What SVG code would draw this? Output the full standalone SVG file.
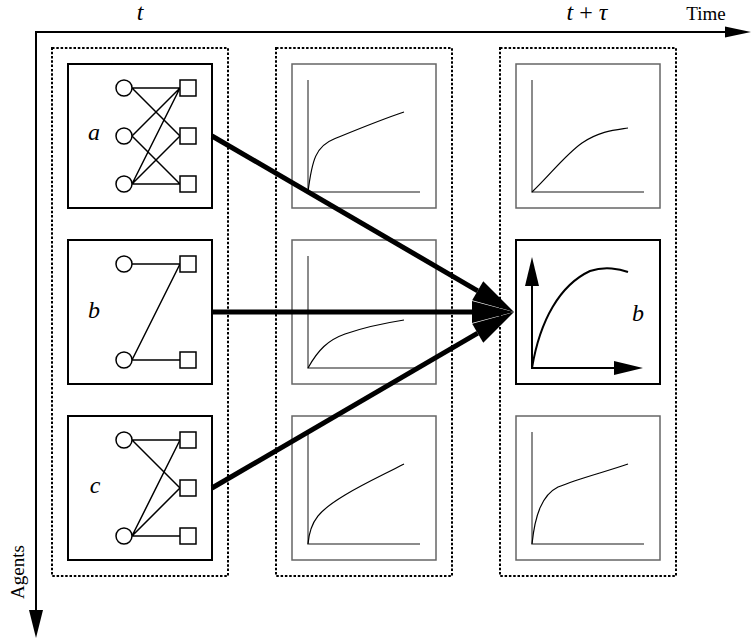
<svg xmlns="http://www.w3.org/2000/svg" width="751" height="639" viewBox="0 0 751 639">
<style>
.dot{fill:none;stroke:#000;stroke-width:2;stroke-dasharray:2.5 1.8}
.nbox{fill:#fff;stroke:#000;stroke-width:2}
.gbox{fill:none;stroke:#666;stroke-width:1.5}
.gaxis{fill:none;stroke:#666;stroke-width:1.5}
.curve{fill:none;stroke:#000;stroke-width:1.2}
.ag{fill:#fff;stroke:#000;stroke-width:1.5}
.ed{stroke:#000;stroke-width:1.5;fill:none}
.lbl{font-family:"Liberation Serif","Times New Roman",serif;font-style:italic;font-size:24px;fill:#000}
.txt{font-family:"Liberation Serif","Times New Roman",serif;font-size:19px;fill:#000}
.thick{stroke:#000;stroke-width:5;fill:none}
</style>
<defs>
<marker id="big" markerUnits="userSpaceOnUse" markerWidth="50" markerHeight="26" refX="0" refY="0" orient="auto" overflow="visible">
<path d="M0,-11 L42,0 L0,11 z" fill="#000"/>
</marker>
</defs>

<g id="axes">
<path d="M727,32 H36 V612" fill="none" stroke="#000" stroke-width="2"/>
<polygon points="725,26.5 751,32 725,37.5" fill="#000"/>
<polygon points="29,610 36,638 43,610" fill="#000"/>
<text class="lbl" x="140" y="20" text-anchor="middle">t</text>
<text class="lbl" x="587" y="20" text-anchor="middle">t <tspan font-style="normal">+</tspan> τ</text>
<text class="txt" x="706" y="20" text-anchor="middle">Time</text>
<text class="txt" x="24" y="572" text-anchor="middle" font-size="21" transform="rotate(-90 24 572)">Agents</text>
</g>

<g id="columns">
<rect class="dot" x="52" y="48" width="176" height="528"/>
<rect class="dot" x="276" y="48" width="176" height="528"/>
<rect class="dot" x="500" y="48" width="176" height="528"/>
</g>

<g id="node-a">
<rect class="nbox" x="68" y="64" width="144" height="144"/>
<path class="ed" d="M132,88 H180 M132,88 L180,136 M132,136 L180,88 M132,136 L180,184 M132,184 L180,88 M132,184 L180,136 M132,184 H180"/>
<circle class="ag" cx="124" cy="88" r="8"/><circle class="ag" cx="124" cy="136" r="8"/><circle class="ag" cx="124" cy="184" r="8"/>
<rect class="ag" x="180" y="80" width="16" height="16"/><rect class="ag" x="180" y="128" width="16" height="16"/><rect class="ag" x="180" y="176" width="16" height="16"/>
<text class="lbl" x="94" y="140" text-anchor="middle">a</text>
</g>

<g id="node-b">
<rect class="nbox" x="68" y="240" width="144" height="144"/>
<path class="ed" d="M132,264 H180 M132,360 L180,264 M132,360 H180"/>
<circle class="ag" cx="124" cy="264" r="8"/><circle class="ag" cx="124" cy="360" r="8"/>
<rect class="ag" x="180" y="256" width="16" height="16"/><rect class="ag" x="180" y="352" width="16" height="16"/>
<text class="lbl" x="94" y="318" text-anchor="middle">b</text>
</g>

<g id="node-c">
<rect class="nbox" x="68" y="416" width="144" height="144"/>
<path class="ed" d="M132,440 H180 M132,440 L180,488 M132,536 L180,440 M132,536 L180,488 M132,536 H180"/>
<circle class="ag" cx="124" cy="440" r="8"/><circle class="ag" cx="124" cy="536" r="8"/>
<rect class="ag" x="180" y="432" width="16" height="16"/><rect class="ag" x="180" y="480" width="16" height="16"/><rect class="ag" x="180" y="528" width="16" height="16"/>
<text class="lbl" x="95" y="493" text-anchor="middle">c</text>
</g>

<g id="plot-a-mid">
<rect class="gbox" x="292" y="64" width="144" height="144"/>
<path class="gaxis" d="M308,80 V192 H420"/>
<path class="curve" d="M308,192 C312,160 316,146 334,139 C356,130 380,120 404,112"/>
</g>
<g id="plot-b-mid">
<rect class="gbox" x="292" y="240" width="144" height="144"/>
<path class="gaxis" d="M308,256 V368 H420"/>
<path class="curve" d="M308,368 C318,350 328,340 345,334 C365,327 385,323 404,320"/>
</g>
<g id="plot-c-mid">
<rect class="gbox" x="292" y="416" width="144" height="144"/>
<path class="gaxis" d="M308,432 V544 H420"/>
<path class="curve" d="M308,544 C310,520 320,510 345,495 C365,483 385,474 404,464"/>
</g>

<g id="plot-a-right">
<rect class="gbox" x="516" y="64" width="144" height="144"/>
<path class="gaxis" d="M532,80 V192 H644"/>
<path class="curve" d="M532,192 C550,175 565,155 582,143 C600,131 615,130 628,128"/>
</g>
<g id="plot-b-right">
<rect class="nbox" x="516" y="240" width="144" height="144"/>
<path d="M532,286 V368 H614" fill="none" stroke="#000" stroke-width="2"/>
<polygon points="525,286 532,257 539,286" fill="#000"/>
<polygon points="614,361 643,368 614,375" fill="#000"/>
<path d="M532,368 C540,320 560,285 590,271 C605,266 620,269 628,272" fill="none" stroke="#000" stroke-width="2"/>
<text class="lbl" x="638" y="321" text-anchor="middle">b</text>
</g>
<g id="plot-c-right">
<rect class="gbox" x="516" y="416" width="144" height="144"/>
<path class="gaxis" d="M532,432 V544 H644"/>
<path class="curve" d="M532,544 C535,515 542,495 558,487 C580,478 605,472 628,464"/>
</g>

<g id="connectors">
<line class="thick" x1="212" y1="136" x2="477.7" y2="290.8" marker-end="url(#big)"/>
<line class="thick" x1="212" y1="312" x2="472" y2="312" marker-end="url(#big)"/>
<line class="thick" x1="212" y1="488" x2="477.7" y2="333.2" marker-end="url(#big)"/>
</g>
</svg>
